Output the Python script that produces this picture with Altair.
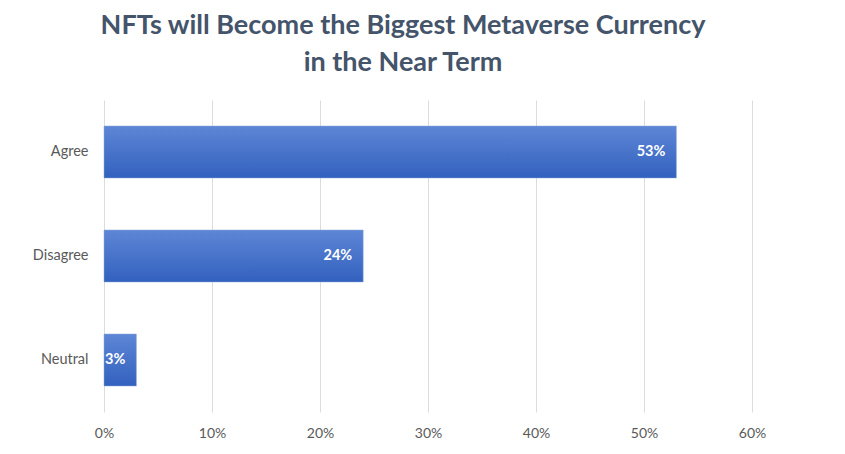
import altair as alt
import pandas as pd

categories = ["Agree", "Disagree", "Neutral"]
values = [0.53, 0.24, 0.03]
labels = ["53%", "24%", "3%"]

df = pd.DataFrame({"cat": categories, "val": values, "lab": labels})

grad = alt.Gradient(
    gradient="linear",
    x1=0, x2=0, y1=0, y2=1,
    stops=[
        alt.GradientStop(offset=0, color="#5E86D6"),
        alt.GradientStop(offset=1, color="#3261BE"),
    ],
)

base = alt.Chart(df).encode(
    y=alt.Y("cat:N", sort=categories, title=None,
            scale=alt.Scale(paddingInner=0.5, paddingOuter=0.25),
            axis=alt.Axis(labelFont="Lato", labelFontSize=14.5, labelColor="#595959",
                          labelPadding=16, ticks=False, domain=False, grid=False)),
)

bars = base.mark_bar(color=grad, stroke="#8FAADC", strokeWidth=0.5).encode(
    x=alt.X("val:Q", title=None,
            scale=alt.Scale(domain=[0, 0.6], nice=False),
            axis=alt.Axis(format=".0%", values=[0, 0.1, 0.2, 0.3, 0.4, 0.5, 0.6],
                          labelFont="Lato", labelFontSize=14, labelColor="#595959",
                          labelPadding=14, labelFlush=False, ticks=False, domain=False,
                          gridColor="#DCDCDC", gridWidth=1)),
)

text = base.mark_text(align="right", dx=-11, color="white", fontWeight="bold",
                      font="Lato", fontSize=14.5).encode(
    x="val:Q", text="lab:N"
)

chart = (bars + text).properties(
    width=648,
    height=312,
    background="white",
    title=alt.TitleParams(
        text=["NFTs will Become the Biggest Metaverse Currency", "in the Near Term"],
        font="Lato", fontSize=27, fontWeight="bold", color="#44546A",
        anchor="middle", dx=-25, offset=23, lineHeight=37,
    ),
    padding={"left": 96, "top": 92, "right": 80, "bottom": 40},
    autosize=alt.AutoSizeParams(type="none"),
).configure_view(stroke=None, strokeWidth=0)

chart.save("out.html", embed_options={"renderer": "svg", "actions": False})
